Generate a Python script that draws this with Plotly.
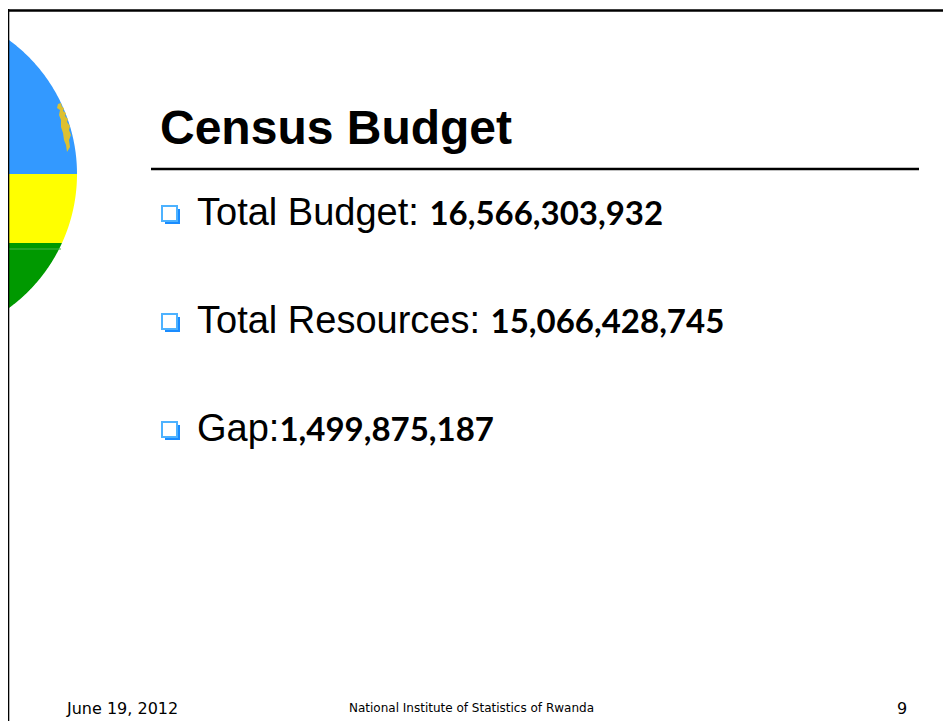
import numpy as np
import plotly.graph_objects as go

# ---- data ----
title_text = "Census Budget"
item_labels = ["Total Budget: ", "Total Resources: ", "Gap:"]
item_values = [16566303932, 15066428745, 1499875187]
footer_date = "June 19, 2012"
footer_org = "National Institute of Statistics of Rwanda"
page_number = "9"

# page is shown with an 8px body margin; data coordinates = page pixel coordinates
W, H, OFF = 951, 721, 8
fig = go.Figure()

shapes = []
# slide frame (top and left edges)
shapes.append(dict(type="line", x0=6, x1=W, y0=10.5, y1=10.5, line=dict(color="black", width=2.6), layer="above"))
shapes.append(dict(type="line", x0=8, x1=8, y0=9, y1=H, line=dict(color="black", width=2.6), layer="above"))

# Rwandan flag disc, clipped at the slide's left edge
cx, cy, r = -89.0, 174.0, 166.0
xl = 9.0

def band_path(y0, y1):
    ys = np.linspace(y0, y1, 160)
    xs = cx + np.sqrt(np.clip(r**2 - (ys - cy)**2, 0, None))
    keep = xs >= xl
    ys, xs = ys[keep], xs[keep]
    pts = [(xl, ys[0])] + list(zip(xs, ys)) + [(xl, ys[-1])]
    return "M " + " L ".join(f"{x:.2f},{y:.2f}" for x, y in pts) + " Z"

shapes.append(dict(type="path", path=band_path(cy - r, 174), fillcolor="#3399FF", line=dict(width=0), layer="below"))
shapes.append(dict(type="path", path=band_path(174, 243), fillcolor="#FFFF00", line=dict(width=0), layer="below"))
shapes.append(dict(type="path", path=band_path(243, cy + r), fillcolor="#009900", line=dict(width=0), layer="below"))
shapes.append(dict(type="line", x0=9, x1=61, y0=249, y1=249, line=dict(color="#47B547", width=1), layer="below"))

# sun rays fragment near the disc edge
sun = ("M 58,104 L 61,103 L 62,107 L 64,108 L 63,111 L 66,113 L 65,116 L 68,119 L 67,122 "
       "L 70,126 L 69,130 L 71,135 L 69,140 L 70,147 L 67,152 L 66,145 L 64,140 L 63,133 "
       "L 61,127 L 61,120 L 59,115 L 60,110 L 57,108 Z")
shapes.append(dict(type="path", path=sun, fillcolor="#F0C419", opacity=0.9, line=dict(width=0), layer="below"))

# title underline
shapes.append(dict(type="line", x0=151, x1=919, y0=169, y1=169, line=dict(color="black", width=2.5)))

annotations = []
annotations.append(dict(x=158, y=127.5, xref="x", yref="y", text=f"<b>{title_text}</b>", showarrow=False,
                        xanchor="left", yanchor="middle",
                        font=dict(family="Liberation Sans, Arial, sans-serif", size=48, color="black")))

body_size = 38
baselines = [225, 333, 441]
for lab, val, base in zip(item_labels, item_values, baselines):
    # bullet: shadowed square
    bx, by, bs = 162, base - 19, 15
    shapes.append(dict(type="rect", x0=bx + 3, x1=bx + bs + 3, y0=by + 3, y1=by + bs + 3,
                       fillcolor="#1A8CFF", line=dict(width=0)))
    shapes.append(dict(type="rect", x0=bx, x1=bx + bs, y0=by, y1=by + bs,
                       fillcolor="white", line=dict(color="#4DB2FF", width=2)))
    txt = (f"{lab}<span style='font-family:Lato, Open Sans, sans-serif;font-weight:bold;font-size:33px'>"
           f"{val:,}</span>")
    annotations.append(dict(x=195, y=base - 0.3465 * body_size, xref="x", yref="y", text=txt, showarrow=False,
                            xanchor="left", yanchor="middle",
                            font=dict(family="Liberation Sans, Arial, sans-serif", size=body_size, color="black")))

foot_font = "DejaVu Sans, Verdana, sans-serif"
annotations.append(dict(x=64, y=708, xref="x", yref="y", text=footer_date, showarrow=False,
                        xanchor="left", yanchor="middle", font=dict(family=foot_font, size=16, color="black")))
annotations.append(dict(x=347, y=708, xref="x", yref="y", text=footer_org, showarrow=False,
                        xanchor="left", yanchor="middle", font=dict(family=foot_font, size=12, color="black")))
annotations.append(dict(x=909, y=708, xref="x", yref="y", text=page_number, showarrow=False,
                        xanchor="right", yanchor="middle", font=dict(family=foot_font, size=16, color="black")))

fig.update_layout(
    width=W - OFF, height=H - OFF,
    margin=dict(l=0, r=0, t=0, b=0),
    paper_bgcolor="white", plot_bgcolor="white",
    xaxis=dict(range=[OFF, W], visible=False, fixedrange=True),
    yaxis=dict(range=[H, OFF], visible=False, fixedrange=True),
    shapes=shapes, annotations=annotations, showlegend=False,
)
fig.write_html("out.html")
